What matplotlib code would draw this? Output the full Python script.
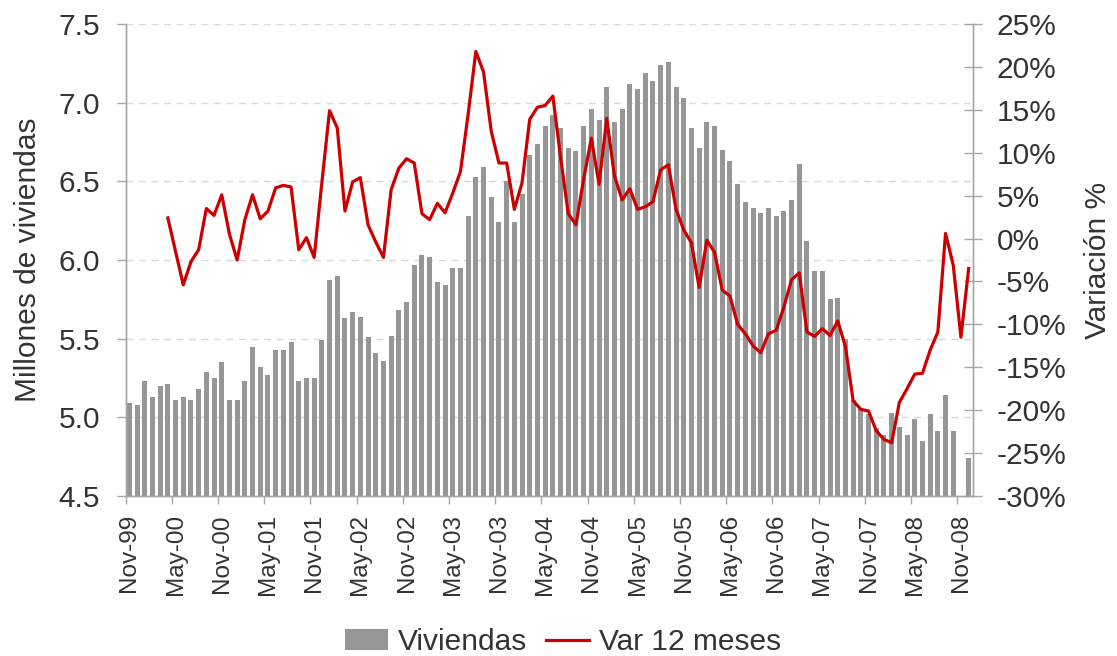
import numpy as np
import matplotlib
matplotlib.use("Agg")
import matplotlib.pyplot as plt
from matplotlib.ticker import FuncFormatter, FixedLocator

plt.rcParams['font.family'] = ['Liberation Sans', 'DejaVu Sans']

# Data: monthly, Nov-99 .. Dec-08
months = ['Nov-99', 'May-00', 'Nov-00', 'May-01', 'Nov-01', 'May-02', 'Nov-02',
          'May-03', 'Nov-03', 'May-04', 'Nov-04', 'May-05', 'Nov-05', 'May-06',
          'Nov-06', 'May-07', 'Nov-07', 'May-08', 'Nov-08']

viviendas = [5.09, 5.08, 5.23, 5.13, 5.20, 5.21, 5.11, 5.13, 5.11, 5.18,
             5.29, 5.25, 5.35, 5.11, 5.11, 5.23, 5.45, 5.32, 5.27, 5.43,
             5.43, 5.48, 5.23, 5.25, 5.25, 5.49, 5.87, 5.90, 5.63, 5.67,
             5.64, 5.51, 5.41, 5.36, 5.52, 5.68, 5.73, 5.97, 6.03, 6.02,
             5.86, 5.84, 5.95, 5.95, 6.28, 6.53, 6.59, 6.40, 6.24, 6.50,
             6.24, 6.42, 6.67, 6.74, 6.85, 6.92, 6.84, 6.71, 6.69, 6.85,
             6.96, 6.89, 7.10, 6.88, 6.96, 7.12, 7.09, 7.19, 7.14, 7.24,
             7.26, 7.10, 7.03, 6.84, 6.71, 6.88, 6.85, 6.70, 6.63, 6.48,
             6.37, 6.33, 6.30, 6.33, 6.28, 6.31, 6.38, 6.61, 6.12, 5.93,
             5.93, 5.75, 5.76, 5.50, 5.11, 5.05, 5.02, 4.93, 4.89, 5.03,
             4.94, 4.89, 4.99, 4.85, 5.02, 4.91, 5.14, 4.91, np.nan, 4.74]

# 12-month change (%), starts at month index 5
var_start = 5
var12 = [2.4, -1.5, -5.4, -2.7, -1.3, 3.5, 2.7, 5.1, 0.5, -2.5,
         2.2, 5.1, 2.3, 3.2, 5.9, 6.2, 6.0, -1.3, 0.1, -2.2,
         6.5, 14.9, 12.9, 3.2, 6.6, 7.1, 1.6, -0.4, -2.2, 5.7,
         8.2, 9.3, 8.8, 2.9, 2.2, 4.1, 3.0, 5.3, 7.8, 14.5,
         21.8, 19.4, 12.5, 8.8, 8.8, 3.4, 6.5, 13.9, 15.3, 15.5,
         16.6, 9.5, 2.9, 1.6, 6.9, 11.7, 6.3, 14.0, 7.3, 4.5,
         5.8, 3.4, 3.7, 4.3, 8.0, 8.6, 3.4, 1.0, -0.5, -5.7,
         -0.2, -1.6, -6.0, -6.7, -10.0, -11.1, -12.5, -13.3, -11.1, -10.7,
         -8.0, -4.8, -4.0, -10.9, -11.4, -10.5, -11.3, -9.6, -12.6, -18.9,
         -19.9, -20.1, -22.4, -23.4, -23.8, -19.1, -17.5, -15.8, -15.7, -13.0,
         -10.9, 0.6, -3.1, -11.5, -3.5]

txt = '#333333'
axc = '#a6a6a6'

x = np.arange(len(viviendas))
xv = np.arange(var_start, var_start + len(var12))

fig = plt.figure(figsize=(11.17, 6.56), dpi=100)
ax = fig.add_axes([125.5 / 1117, 1 - 496 / 656, 847 / 1117, 472 / 656])
ax2 = ax.twinx()

# Bars + grid
ax.set_axisbelow(True)
ax.yaxis.grid(True, color='#d9d9d9', linestyle=(0, (5, 4)), linewidth=1)
bars = ax.bar(x, viviendas, width=0.65, color='#969696', label='Viviendas', zorder=2)
ax.set_ylim(4.5, 7.5)
ax.set_xlim(-0.5, len(viviendas) - 0.5)
ax.set_yticks(np.arange(4.5, 7.51, 0.5))
ax.yaxis.set_major_formatter(FuncFormatter(lambda v, p: '%.1f' % v))

# Line
line, = ax2.plot(xv, var12, color='#cc0000', linewidth=2.3, label='Var 12 meses')
ax2.set_ylim(-30, 25)
ax2.set_yticks(np.arange(-30, 26, 5))
ax2.yaxis.set_major_formatter(FuncFormatter(lambda v, p: '%d%%' % round(v)))

# X ticks: labels at categories, marks between
ax.set_xticks(np.arange(0, len(viviendas), 6))
ax.set_xticklabels(months, rotation=90)
ax.xaxis.set_minor_locator(FixedLocator(np.arange(-0.5, len(viviendas) - 1, 6)))
ax.tick_params(axis='x', which='major', length=0, pad=13, labelsize=17.5, labelcolor=txt)
ax.tick_params(axis='x', which='minor', length=5.8, width=1, color=axc)
ax.tick_params(axis='y', length=6.3, width=1, color=axc, pad=12, labelsize=21.5, labelcolor=txt)
ax2.tick_params(axis='y', direction='inout', length=13, width=1, color=axc, pad=11,
                labelsize=21.5, labelcolor=txt)

for a in (ax, ax2):
    a.spines['top'].set_visible(False)
    for s in ('left', 'bottom', 'right'):
        a.spines[s].set_color(axc)
        a.spines[s].set_linewidth(1)

# Axis titles
fig.text(28 / 1117, 1 - 260 / 656, 'Millones de viviendas', rotation=90,
         ha='center', va='center', fontsize=21.5, color=txt)
fig.text(1098 / 1117, 1 - 260 / 656, 'Variación %', rotation=90,
         ha='center', va='center', fontsize=21.5, color=txt)

# Legend
fig.legend([bars, line], ['Viviendas', 'Var 12 meses'], loc='center',
           bbox_to_anchor=(0.504, 0.021), ncol=2, frameon=False, fontsize=21.5,
           handlelength=1.44, handletextpad=0.33, columnspacing=0.63, labelcolor=txt)

fig.savefig('out.png', dpi=100)
